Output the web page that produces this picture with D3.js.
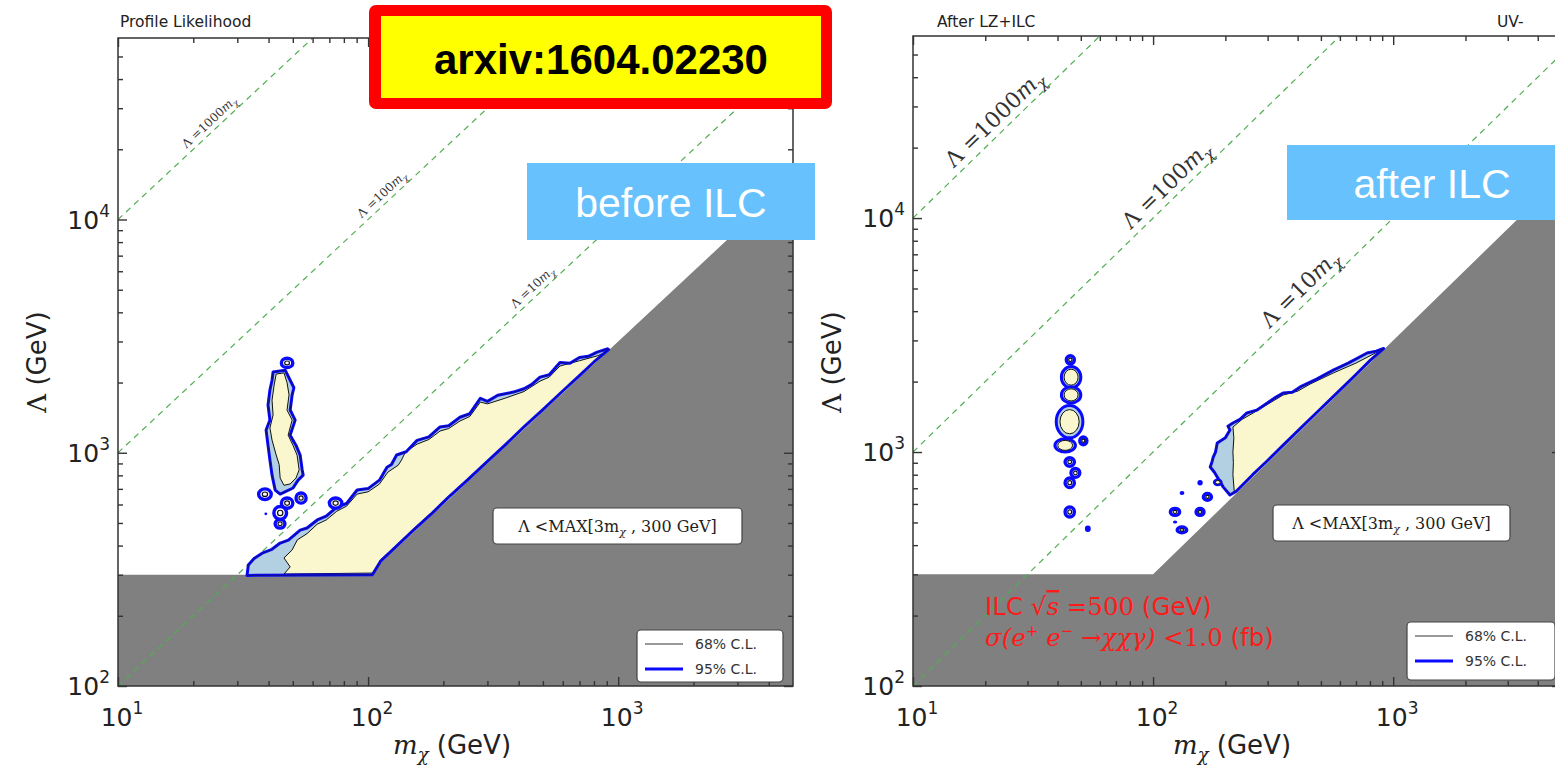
<!DOCTYPE html>
<html><head><meta charset="utf-8">
<script src="https://cdn.jsdelivr.net/npm/d3@7"></script>
<style>body{margin:0;background:#fff}svg{display:block}</style>
</head><body>
<svg id="c" width="1555" height="767"></svg>
<script>
// ---------------- data (m_chi [GeV], Lambda [GeV]) ----------------
const xDomain = [10, 5000];
const yDomain = [100, 60000];
const xMajor = [10, 100, 1000];
const xMinor = [20,30,40,50,60,70,80,90,200,300,400,500,600,700,800,900,2000,3000,4000];
const yMajor = [100, 1000, 10000];
const yMinor = [200,300,400,500,600,700,800,900,2000,3000,4000,5000,6000,7000,8000,9000,20000,30000,40000,50000];
const xTickExp = ["1","2","3"];
const yTickExp = ["2","3","4"];
const ratioLines = [1000, 100, 10];
const ratioLabels = ["1000", "100", "10"];
const ratioLabelM = [24.5, 120, 480];
const ratioLabelMRight = [24, 125, 450];
const excluded = [[10,100],[10,300],[100,300],[5000,15000],[5000,100]];

// before ILC
const leftBand95 = [[32.8,298],[33.2,330],[35,352],[37.7,371],[41,384],[44.5,410],[48,422],[53.5,466],[57,476],[62.6,515],[68,535],[75,585],[82,606],[90.4,692],[100,702],[111,763],[114,800],[119,867],[124,890],[130,978],[142,1010],[157,1130],[175,1170],[194,1290],[210,1305],[233,1420],[255,1470],[281,1710],[300,1660],[330,1765],[381,1820],[420,1880],[450,1960],[487,2110],[530,2160],[585,2440],[641,2420],[700,2560],[760,2590],[824,2700],[905,2790],[915,2770],[800,2450],[700,2140],[600,1840],[500,1530],[420,1290],[350,1070],[300,918],[250,765],[210,645],[180,550],[150,460],[130,398],[112,342],[104,300]];
const leftBand68 = [[46.1,302],[48.8,324],[46.1,354],[49.7,383],[52.1,423],[57,450],[62.6,494],[68,515],[75,562],[82,590],[90.4,665],[100,680],[111,734],[120,826],[132,885],[136,930],[141,1007],[157,1089],[175,1140],[194,1239],[210,1270],[233,1368],[255,1430],[281,1649],[300,1620],[354,1715],[420,1830],[487,2028],[530,2110],[585,2354],[700,2480],[824,2601],[895,2700],[800,2460],[700,2150],[600,1850],[500,1540],[420,1300],[350,1078],[300,925],[250,772],[210,652],[180,556],[150,466],[130,402],[112,347],[106,305]];
const leftIsland95 = [[41.7,2218],[46.6,2260],[48.8,2045],[50.5,1900],[49.7,1770],[48.8,1525],[51.1,1380],[48.8,1190],[51.5,1075],[53.5,977],[54.5,845],[55,802],[52.5,763],[50.1,706],[44.5,665],[42.5,692],[41.3,802],[40.5,931],[39.8,1075],[39.1,1251],[40.5,1381],[39.8,1600],[40.5,1858],[41.3,2045]];
const leftIsland68 = [[42.9,2175],[46.1,2200],[47.4,2000],[48.3,1770],[47.4,1524],[49.7,1381],[47.9,1190],[50.1,1075],[52.0,977],[53.0,845],[51.5,779],[48.8,735],[46.1,725],[44.5,779],[44.1,890],[42.9,978],[41.3,1133],[40.5,1277],[41.7,1451],[41.3,1681],[42.1,1950]];
// blobs: [mLo, mHi, LambdaLo, LambdaHi, kind]
const leftBlobs = [
  [45,50,2320,2540,"ring"],
  [36.5,41,630,700,"ring"],
  [45,50,578,640,"ring"],
  [51.5,56.5,608,672,"ring"],
  [42,47.2,518,588,"ring"],
  [42.5,46.5,475,518,"ring"],
  [70,78.5,578,640,"ring"],
  [38.5,39.5,540,555,"dot"]
];

// after LZ+ILC
const rightBand95 = [[209,655],[196,708],[185,782],[180,820],[173,863],[176,910],[178,952],[182,1000],[185,1092],[200,1150],[209,1242],[205,1290],[215,1331],[230,1380],[246,1469],[270,1510],[299,1619],[320,1700],[348,1787],[380,1800],[410,1897],[480,2050],[563,2240],[650,2400],[779,2650],[850,2700],[900,2760],[912,2770],[800,2460],[700,2145],[600,1840],[500,1535],[420,1290],[350,1075],[300,920],[260,800],[222,680]];
const rightBand68 = [[218,670],[215,800],[216,900],[215,1000],[217,1150],[215,1279],[235,1380],[261,1468],[300,1600],[348,1753],[400,1820],[450,1950],[563,2177],[700,2400],[885,2720],[800,2470],[700,2155],[600,1850],[500,1545],[420,1300],[350,1082],[300,925],[260,806],[224,690]];
const rightBlobs = [
  [43.5,47,2380,2580,"ring"],
  [41.5,50,1880,2320,"yellow"],
  [41.5,50,1620,1900,"yellow"],
  [39.5,51,1150,1580,"yellow"],
  [39,47.5,1000,1140,"yellow"],
  [49.5,53,1075,1160,"ring"],
  [43,47,870,945,"ring"],
  [45.5,49.5,780,850,"ring"],
  [43,47,705,775,"ring"],
  [43,47,528,582,"ring"],
  [52,55,455,485,"dot"],
  [153,161,720,760,"dot"],
  [129,135,655,682,"dot"],
  [162,175,622,665,"ring"],
  [118,129,536,574,"ring"],
  [151,163,536,574,"ring"],
  [121,126,495,510,"dot"],
  [126,138,452,478,"ring"],
  [180,192,725,760,"yellow"]
];

// ---------------- style ----------------
const C = {gray:"#808080", yellow:"#faf6cd", lblue:"#b3cfe2", blue:"#0a0aff", green:"#4fae4f", axis:"#333"};
const sans = "'DejaVu Sans', sans-serif";
const serif = "'DejaVu Serif', 'Liberation Serif', serif";

const svg = d3.select("#c");

function panel(cfg){
  const x = d3.scaleLog().domain(xDomain).range([cfg.x0, cfg.x1]);
  const y = d3.scaleLog().domain(yDomain).range([cfg.y1, cfg.y0]);
  const g = svg.append("g");
  const cid = "clip"+cfg.id;
  g.append("clipPath").attr("id",cid).append("rect")
    .attr("x",cfg.x0).attr("y",cfg.y0).attr("width",cfg.x1-cfg.x0).attr("height",cfg.y1-cfg.y0);
  const pg = g.append("g").attr("clip-path",`url(#${cid})`);
  const line = d3.line().x(d=>x(d[0])).y(d=>y(d[1])).curve(d3.curveLinearClosed);

  // excluded region
  pg.append("path").attr("d", line(excluded)).attr("fill", C.gray);

  // dashed ratio lines
  ratioLines.forEach(k=>{
    pg.append("line").attr("x1",x(xDomain[0])).attr("y1",y(k*xDomain[0]))
      .attr("x2",x(xDomain[1])).attr("y2",y(k*xDomain[1]))
      .attr("stroke",C.green).attr("stroke-width",1.2).attr("stroke-dasharray","6,5");
  });
  const ang = Math.atan2(y(1000*10)-y(1000*100), x(100)-x(10))*180/Math.PI;
  const lm = cfg.id==="L" ? ratioLabelM : ratioLabelMRight;
  ratioLines.forEach((k,i)=>{
    const px = x(lm[i]), py = y(k*lm[i]);
    const t = pg.append("text").attr("transform",`translate(${px},${py}) rotate(${-ang}) translate(0,${-cfg.lblOff})`)
      .attr("text-anchor","middle").attr("font-family",serif).attr("font-size",cfg.lblSize).attr("fill","#333");
    t.append("tspan").text("Λ =" + ratioLabels[i]);
    t.append("tspan").attr("font-style","italic").text("m");
    t.append("tspan").attr("font-style","italic").attr("font-size",cfg.lblSize*0.7).attr("dy",cfg.lblSize*0.25).text("χ");
  });

  // contours
  cfg.band95.forEach(p=>{
    pg.append("path").attr("d",line(p)).attr("fill",C.lblue).attr("stroke","none");
  });
  cfg.band68.forEach(p=>{
    pg.append("path").attr("d",line(p)).attr("fill",C.yellow).attr("stroke","#111").attr("stroke-width",1);
  });
  cfg.band95.forEach(p=>{
    pg.append("path").attr("d",line(p)).attr("fill","none").attr("stroke",C.blue).attr("stroke-width",3).attr("stroke-linejoin","round");
    pg.append("path").attr("d",line(p)).attr("fill","none").attr("stroke","#111").attr("stroke-width",0.8).attr("opacity",0.7);
  });
  cfg.blobs.forEach(b=>{
    const cx=(x(b[0])+x(b[1]))/2, cy=(y(b[2])+y(b[3]))/2;
    const rx=Math.abs(x(b[1])-x(b[0]))/2, ry=Math.abs(y(b[3])-y(b[2]))/2;
    if(b[4]==="dot"){
      pg.append("ellipse").attr("cx",cx).attr("cy",cy).attr("rx",rx).attr("ry",ry).attr("fill",C.blue);
      return;
    }
    pg.append("ellipse").attr("cx",cx).attr("cy",cy).attr("rx",rx).attr("ry",ry)
      .attr("fill",b[4]==="yellow"?C.lblue:"#fff").attr("stroke",C.blue).attr("stroke-width",b[4]==="yellow"?3:3.4);
    if(b[4]==="yellow"){
      pg.append("ellipse").attr("cx",cx).attr("cy",cy).attr("rx",rx*0.72).attr("ry",ry*0.75)
        .attr("fill",C.yellow).attr("stroke","#111").attr("stroke-width",1);
    } else {
      pg.append("ellipse").attr("cx",cx).attr("cy",cy).attr("rx",rx*0.42).attr("ry",ry*0.42)
        .attr("fill","#fff").attr("stroke","#111").attr("stroke-width",1.2);
    }
  });

  // axes: ticks inward on all sides
  const mk = (axisFn, scale, vals, size, tr) => {
    const a = g.append("g").attr("transform",tr)
      .call(axisFn(scale).tickValues(vals).tickSizeInner(-size).tickSizeOuter(0).tickFormat(""));
    a.select(".domain").remove();
    a.selectAll("line").attr("stroke",C.axis).attr("stroke-width",1.4);
  };
  mk(d3.axisBottom, x, xMajor, 9, `translate(0,${cfg.y1})`);
  mk(d3.axisBottom, x, xMinor, 5, `translate(0,${cfg.y1})`);
  mk(d3.axisTop, x, xMajor, 9, `translate(0,${cfg.y0})`);
  mk(d3.axisTop, x, xMinor, 5, `translate(0,${cfg.y0})`);
  mk(d3.axisLeft, y, yMajor, 9, `translate(${cfg.x0},0)`);
  mk(d3.axisLeft, y, yMinor, 5, `translate(${cfg.x0},0)`);
  mk(d3.axisRight, y, yMajor, 9, `translate(${cfg.x1},0)`);
  mk(d3.axisRight, y, yMinor, 5, `translate(${cfg.x1},0)`);
  g.append("rect").attr("x",cfg.x0).attr("y",cfg.y0).attr("width",cfg.x1-cfg.x0).attr("height",cfg.y1-cfg.y0)
    .attr("fill","none").attr("stroke",C.axis).attr("stroke-width",1.5);

  // tick labels
  xMajor.forEach((v,i)=>{
    const t = g.append("text").attr("x",x(v)+4).attr("y",cfg.y1+40).attr("text-anchor","middle")
      .attr("font-family",sans).attr("font-size",25).attr("fill","#222");
    t.append("tspan").text("10");
    t.append("tspan").attr("font-size",17).attr("dy",-12).text(xTickExp[i]);
  });
  yMajor.forEach((v,i)=>{
    const t = g.append("text").attr("x",cfg.x0-8).attr("y",y(v)+9).attr("text-anchor","end")
      .attr("font-family",sans).attr("font-size",25).attr("fill","#222");
    t.append("tspan").text("10");
    t.append("tspan").attr("font-size",17).attr("dy",-12).text(yTickExp[i]);
  });

  // axis titles
  const yl = g.append("text").attr("transform",`translate(${cfg.x0-72},${cfg.ylY}) rotate(-90)`)
    .attr("text-anchor","middle").attr("font-family",sans).attr("font-size",26).attr("fill","#222");
  yl.append("tspan").attr("font-family",serif).text("Λ");
  yl.append("tspan").text(" (GeV)");
  const xl = g.append("text").attr("x",cfg.xlX).attr("y",754).attr("text-anchor","middle")
    .attr("font-family",sans).attr("font-size",26).attr("fill","#222");
  xl.append("tspan").attr("font-family",serif).attr("font-style","italic").text("m");
  xl.append("tspan").attr("font-family",serif).attr("font-style","italic").attr("font-size",18).attr("dy",7).text("χ");
  xl.append("tspan").attr("dy",-7).text("  (GeV)");

  // title(s)
  cfg.titles.forEach(tt=>{
    g.append("text").attr("x",tt[0]).attr("y",27).attr("font-family",sans).attr("font-size",15.5)
      .attr("fill","#222").text(tt[1]);
  });

  // MAX box
  const mb = cfg.maxBox;
  g.append("rect").attr("x",mb[0]).attr("y",mb[1]).attr("width",mb[2]).attr("height",mb[3]).attr("rx",4)
    .attr("fill","#fff").attr("stroke","#444").attr("stroke-width",1.2);
  const mt = g.append("text").attr("x",mb[0]+mb[2]/2).attr("y",mb[1]+mb[3]/2+6).attr("text-anchor","middle")
    .attr("font-family",serif).attr("font-size",16).attr("fill","#222");
  mt.append("tspan").text("Λ <MAX[3m");
  mt.append("tspan").attr("font-size",11).attr("dy",4).attr("font-style","italic").text("χ");
  mt.append("tspan").attr("dy",-4).text(" , 300 GeV]");

  // legend
  const lb = cfg.legend;
  g.append("rect").attr("x",lb[0]).attr("y",lb[1]).attr("width",lb[2]).attr("height",lb[3]).attr("rx",4)
    .attr("fill","#fff").attr("stroke","#444").attr("stroke-width",1.2);
  [["68% C.L.","#777",1.5],["95% C.L.",C.blue,3]].forEach((e,i)=>{
    const yy = lb[1]+14+i*25;
    g.append("line").attr("x1",lb[0]+8).attr("x2",lb[0]+46).attr("y1",yy).attr("y2",yy)
      .attr("stroke",e[1]).attr("stroke-width",e[2]);
    g.append("text").attr("x",lb[0]+58).attr("y",yy+5).attr("font-family",sans).attr("font-size",14)
      .attr("fill","#333").text(e[0]);
  });
  return {g,x,y};
}

panel({id:"L", x0:118, x1:793, y0:38, y1:686, lblOff:5, lblSize:12, ylY:362, xlX:452,
  band95:[leftBand95,leftIsland95], band68:[leftBand68,leftIsland68], blobs:leftBlobs,
  titles:[[120,"Profile Likelihood"]], maxBox:[493,508,249,36], legend:[637,630,146,52]});

const R = panel({id:"R", x0:913, x1:1561, y0:36, y1:686, lblOff:7, lblSize:22, ylY:362, xlX:1232,
  band95:[rightBand95], band68:[rightBand68], blobs:rightBlobs,
  titles:[[937,"After LZ+ILC"],[1497,"UV-"]], maxBox:[1273,505,237,36], legend:[1407,622,148,58]});

// ILC annotation (red)
const r1 = svg.append("text").attr("x",985).attr("y",615).attr("font-size",24.5).attr("fill","#ff1a1a").attr("font-family",sans);
r1.append("tspan").text("ILC ");
r1.append("tspan").attr("font-family",serif).text("√");
r1.append("tspan").attr("font-family",serif).attr("font-style","italic").attr("text-decoration","overline").text("s");
r1.append("tspan").attr("font-family",serif).text(" =500 ");
r1.append("tspan").text("(GeV)");
const r2 = svg.append("text").attr("x",985).attr("y",646).attr("font-size",24.5).attr("fill","#ff1a1a").attr("font-family",serif);
r2.append("tspan").attr("font-style","italic").text("σ(e");
r2.append("tspan").attr("font-size",15).attr("dy",-10).text("+");
r2.append("tspan").attr("font-style","italic").attr("dy",10).text(" e");
r2.append("tspan").attr("font-size",15).attr("dy",-10).text("−");
r2.append("tspan").attr("font-style","italic").attr("dy",10).text(" →χχγ) ");
r2.append("tspan").text("<1.0 ");
r2.append("tspan").attr("font-family",sans).text("(fb)");

// overlay labels
svg.append("rect").attr("x",527).attr("y",163).attr("width",288).attr("height",77).attr("fill","#66c1fd");
svg.append("text").attr("x",671).attr("y",217).attr("text-anchor","middle").attr("font-family","'Liberation Sans', Arial, sans-serif")
  .attr("font-size",41).attr("fill","#fff").text("before ILC");
svg.append("rect").attr("x",1287).attr("y",145).attr("width",268).attr("height",75).attr("fill","#66c1fd");
svg.append("text").attr("x",1432).attr("y",198).attr("text-anchor","middle").attr("font-family","'Liberation Sans', Arial, sans-serif")
  .attr("font-size",41).attr("fill","#fff").text("after ILC");

svg.append("rect").attr("x",369).attr("y",5).attr("width",463).attr("height",104).attr("rx",7).attr("fill","#ff0000");
svg.append("rect").attr("x",381).attr("y",16).attr("width",440).attr("height",82).attr("fill","#ffff00");
svg.append("text").attr("x",601).attr("y",74).attr("text-anchor","middle").attr("font-family","'Liberation Sans', Arial, sans-serif")
  .attr("font-weight","bold").attr("font-size",42).attr("fill","#000").text("arxiv:1604.02230");
</script>
</body></html>
